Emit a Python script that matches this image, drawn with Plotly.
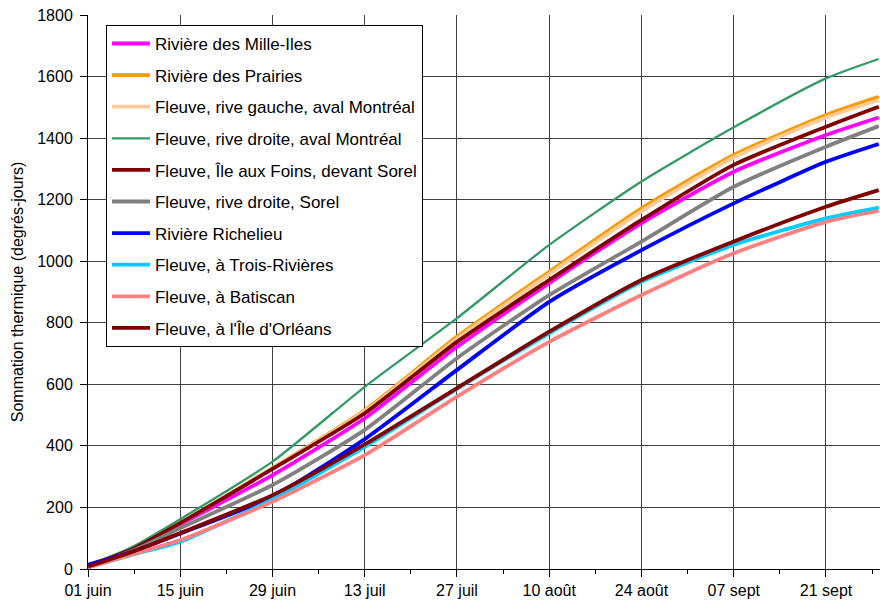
import plotly.graph_objects as go
import datetime as dt

dates = ["2005-06-01", "2005-06-08", "2005-06-15", "2005-06-29", "2005-07-13", "2005-07-27",
         "2005-08-10", "2005-08-24", "2005-09-07", "2005-09-21", "2005-09-29"]

mille_iles = [10, 65, 145, 305, 490, 722, 929, 1124, 1291, 1410, 1467]
prairies = [10, 68, 150, 328, 516, 755, 966, 1172, 1345, 1475, 1534]
rive_gauche = [10, 68, 150, 326, 512, 748, 958, 1162, 1337, 1467, 1524]
rive_droite_mtl = [10, 75, 162, 349, 592, 815, 1053, 1259, 1435, 1594, 1657]
ile_foins = [10, 67, 149, 325, 506, 738, 939, 1134, 1313, 1437, 1502]
rive_droite_sorel = [10, 62, 133, 273, 452, 685, 890, 1064, 1242, 1372, 1439]
richelieu = [14, 58, 115, 235, 422, 647, 868, 1036, 1188, 1323, 1381]
trois_rivieres = [5, 48, 89, 227, 397, 585, 766, 933, 1053, 1139, 1174]
batiscan = [5, 50, 94, 219, 370, 560, 738, 890, 1026, 1128, 1164]
orleans = [8, 58, 117, 240, 405, 588, 771, 939, 1064, 1177, 1231]

names = ["Rivière des Mille-Iles", "Rivière des Prairies", "Fleuve, rive gauche, aval Montréal",
         "Fleuve, rive droite, aval Montréal", "Fleuve, Île aux Foins, devant Sorel",
         "Fleuve, rive droite, Sorel", "Rivière Richelieu", "Fleuve, à Trois-Rivières",
         "Fleuve, à Batiscan", "Fleuve, à l'Île d'Orléans"]
series = [mille_iles, prairies, rive_gauche, rive_droite_mtl, ile_foins,
          rive_droite_sorel, richelieu, trois_rivieres, batiscan, orleans]
colors = ["#FF00FF", "#FF9900", "#FFCC99", "#339966", "#800000",
          "#808080", "#0000FF", "#00CCFF", "#FF8080", "#800000"]
widths = [3.8, 3.8, 3.8, 2.3, 3.8, 3.8, 3.8, 3.8, 3.8, 3.8]

tick_vals = ["2005-06-01", "2005-06-15", "2005-06-29", "2005-07-13", "2005-07-27",
             "2005-08-10", "2005-08-24", "2005-09-07", "2005-09-21"]
tick_text = ["01 juin", "15 juin", "29 juin", "13 juil", "27 juil",
             "10 août", "24 août", "07 sept", "21 sept"]

fig = go.Figure()
for i, (nm, ys, c, w) in enumerate(zip(names, series, colors, widths)):
    fig.add_trace(go.Scatter(x=dates, y=ys, name=nm, mode="lines",
                             line=dict(color=c, width=w, shape="spline", smoothing=0.6),
                             legendgroup=f"g{i}"))

start = dt.datetime(2005, 6, 1)
end = start + dt.timedelta(days=120.2)

font = "Liberation Sans, Arial, sans-serif"
fig.update_layout(
    width=880, height=609,
    margin=dict(l=88, r=0, t=15, b=40, autoexpand=False),
    plot_bgcolor="white", paper_bgcolor="white",
    font=dict(family=font, size=16, color="black"),
    showlegend=True,
    legend=dict(x=0.0227, y=0.982, xanchor="left", yanchor="top",
                bordercolor="black", borderwidth=1, bgcolor="white",
                font=dict(family=font, size=17, color="black"),
                tracegroupgap=6.5, itemwidth=38),
    xaxis=dict(range=[start, end], tickvals=tick_vals, ticktext=tick_text,
               showgrid=True, gridcolor="#404040", gridwidth=1,
               ticks="outside", ticklen=7, tickcolor="black",
               showline=True, linecolor="black", linewidth=1, automargin=False,
               minor=dict(dtick=7 * 86400000, tick0="2005-06-01", ticks="outside",
                          ticklen=4, tickcolor="black", showgrid=False),
               zeroline=False, tickfont=dict(size=16)),
    yaxis=dict(range=[0, 1800], dtick=200, showgrid=True, gridcolor="#404040", gridwidth=1,
               ticks="outside", ticklen=7, tickcolor="black", automargin=False,
               ticklabelstandoff=4,
               showline=True, linecolor="black", linewidth=1, zeroline=False,
               title=dict(text="Sommation thermique (degrés-jours)", font=dict(size=16), standoff=9),
               tickfont=dict(size=16)),
)
fig.write_html("out.html", config={"displayModeBar": False},
               post_script="document.body.style.margin='0';document.body.style.overflow='hidden';")
